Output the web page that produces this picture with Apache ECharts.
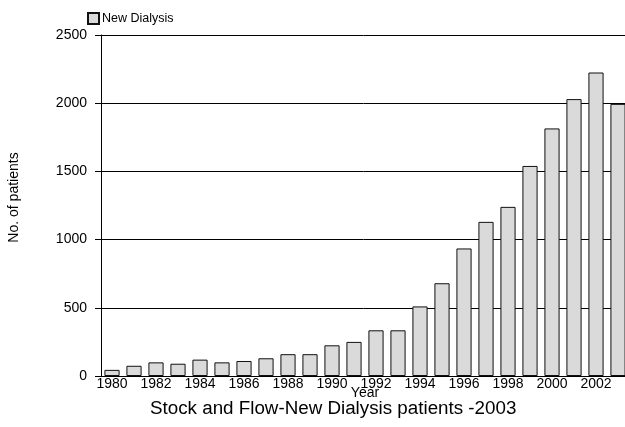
<!DOCTYPE html>
<html>
<head>
<meta charset="utf-8">
<script src="https://cdn.jsdelivr.net/npm/echarts@6/dist/echarts.min.js"></script>
<style>html,body{margin:0;padding:0;background:#fff}#c{width:625px;height:427px}</style>
</head>
<body>
<div id="c"></div>
<script>
const years = ['1980','1981','1982','1983','1984','1985','1986','1987','1988','1989','1990','1991','1992','1993','1994','1995','1996','1997','1998','1999','2000','2001','2002','2003'];
const newDialysis = [45,75,100,90,120,100,110,130,160,160,225,250,335,335,510,680,935,1130,1240,1540,1815,2030,2225,1995];
const seriesName = 'New Dialysis';
const chartTitle = 'Stock and Flow-New Dialysis patients -2003';
const yName = 'No. of patients';
const xName = 'Year';

const font = '"Liberation Sans", Arial, sans-serif';
const chart = echarts.init(document.getElementById('c'));
chart.setOption({
  animation: false,
  backgroundColor: '#fff',
  title: {
    text: chartTitle, left: 145, top: 394,
    textStyle: {fontFamily: font, fontSize: 18.8, fontWeight: 'normal', color: '#000'}
  },
  legend: {
    left: 82, top: 7, itemWidth: 11, itemHeight: 11, itemGap: 4, icon: 'rect',
    data: [seriesName],
    textStyle: {fontFamily: font, fontSize: 12.5, color: '#000', padding: [0,0,0,-2]}
  },
  grid: {left: 101, top: 35, height: 341, width: 528, containLabel: false, outerBoundsMode: 'none'},
  xAxis: {
    type: 'category', data: years,
    name: xName, nameLocation: 'middle', nameGap: 10, nameMoveOverlap: false,
    nameTextStyle: {fontFamily: font, fontSize: 14, color: '#000'},
    axisLine: {show: true, lineStyle: {color: '#000', width: 1}},
    axisTick: {show: false},
    axisLabel: {interval: 1, fontFamily: font, fontSize: 14, color: '#000', margin: 1}
  },
  yAxis: {
    type: 'value', min: 0, max: 2500, interval: 500,
    name: yName, nameLocation: 'middle', nameGap: 80, nameRotate: 90, nameMoveOverlap: false,
    nameTextStyle: {fontFamily: font, fontSize: 14, color: '#000', padding: [0,0,0,16]},
    axisLine: {show: true, lineStyle: {color: '#000', width: 1}},
    axisTick: {show: true, length: 6, lineStyle: {color: '#000'}},
    axisLabel: {fontFamily: font, fontSize: 14, color: '#000', margin: 14, formatter: v => String(v)},
    splitLine: {show: true, lineStyle: {color: '#000', width: 1}}
  },
  series: [{
    name: seriesName, type: 'bar', data: newDialysis,
    barCategoryGap: '31%',
    itemStyle: {color: '#dadada', borderColor: '#111', borderWidth: 1}
  }]
});
</script>
</body>
</html>
